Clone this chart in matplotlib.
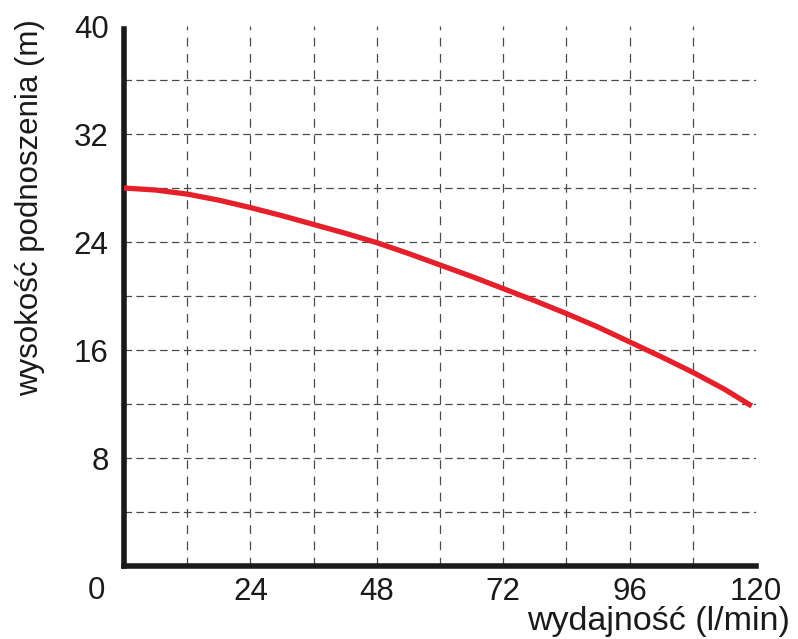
import matplotlib
matplotlib.use("Agg")
import matplotlib.pyplot as plt

# Data
flow = [0, 6, 12, 18, 24, 30, 36, 42, 48, 54, 60, 66, 72, 78, 84, 90, 96, 102, 108, 114, 119.2]
head = [28.0, 27.85, 27.55, 27.1, 26.55, 25.95, 25.3, 24.65, 23.95, 23.15, 22.3,
        21.45, 20.55, 19.65, 18.7, 17.7, 16.6, 15.5, 14.35, 13.1, 11.85]
x_ticks = [24, 48, 72, 96, 120]
x_tick_labels = ["24", "48", "72", "96", "120"]
y_ticks = [8, 16, 24, 32, 40]
y_tick_labels = ["8", "16", "24", "32", "40"]
x_grid = [12, 24, 36, 48, 60, 72, 84, 96, 108]
y_grid = [4, 8, 12, 16, 20, 24, 28, 32, 36]
origin_label = "0"
x_label = "wydajność (l/min)"
y_label = "wysokość podnoszenia (m)"

plt.rcParams['font.family'] = ['Liberation Sans', 'DejaVu Sans']

W, H = 798, 639
fig = plt.figure(figsize=(W / 100, H / 100), dpi=100)
ax = fig.add_axes([124 / W, 1 - 566 / H, (756 - 124) / W, (566 - 26) / H])
ax.set_xlim(0, 120)
ax.set_ylim(0, 40)

grid_color = "#4a4a4a"
for gx in x_grid:
    ax.axvline(gx, color=grid_color, lw=0.9, dashes=(7, 6), zorder=1)
for gy in y_grid:
    ax.axhline(gy, color=grid_color, lw=0.9, dashes=(6, 3.5), zorder=1)

ax.plot(flow, head, color="#e5202a", lw=3.8, solid_capstyle="butt",
        solid_joinstyle="round", zorder=3, clip_on=False)

for s in ["top", "right"]:
    ax.spines[s].set_visible(False)
for s in ["left", "bottom"]:
    ax.spines[s].set_linewidth(4.0)
    ax.spines[s].set_color("#1a1a1a")
    ax.spines[s].set_capstyle("projecting")
ax.spines["left"].set_bounds(0, 39.8)

ax.set_xticks(x_ticks)
ax.set_xticklabels(x_tick_labels)
ax.set_yticks(y_ticks)
ax.set_yticklabels(y_tick_labels)
ax.tick_params(axis="both", length=0, labelsize=22.5, colors="#1a1a1a")
ax.tick_params(axis="x", pad=8)
ax.tick_params(axis="y", pad=11)

fig.text(96 / W, 1 - 591 / H, origin_label, ha="center", va="center",
         fontsize=22.5, color="#1a1a1a")
fig.text(30 / W, 1 - 208 / H, y_label, rotation=90, ha="center", va="center",
         fontsize=22.5, color="#1a1a1a")
fig.text(790 / W, 1 - 630 / H, x_label, ha="right", va="baseline",
         fontsize=24.5, color="#1a1a1a")

fig.savefig("out.png", dpi=100)
